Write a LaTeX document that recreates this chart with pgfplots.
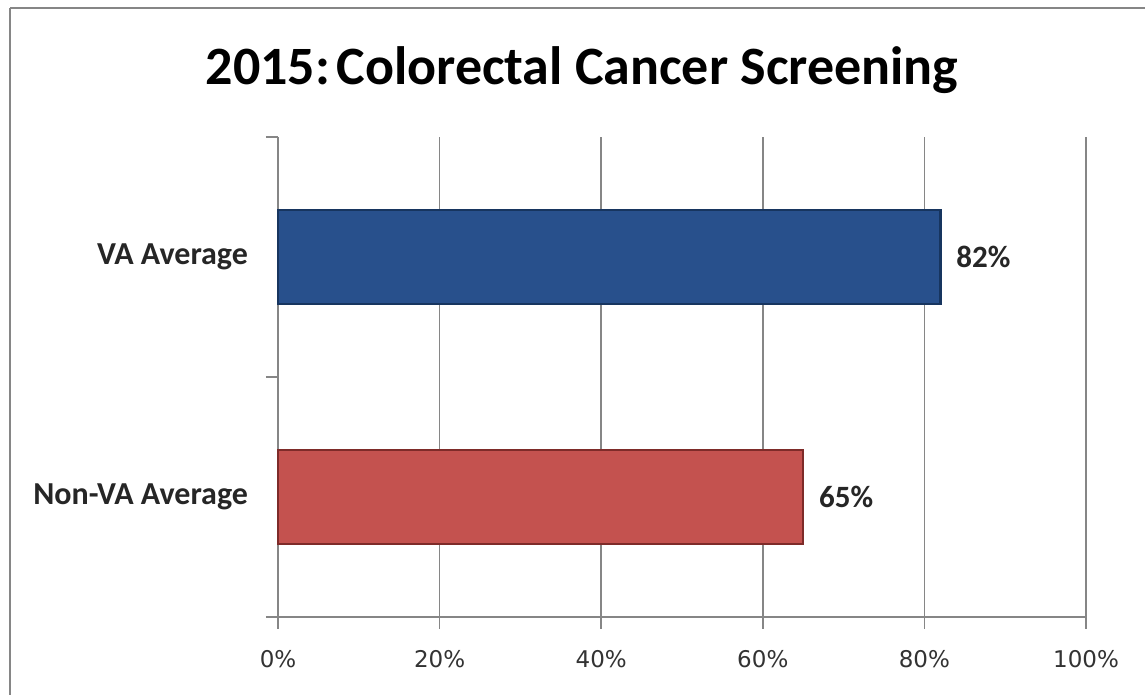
\documentclass[border=0pt]{standalone}
\usepackage{fontspec}
\usepackage{pgfplots}
\pgfplotsset{compat=1.18}
\newfontfamily\carlito{Carlito}
\newfontfamily\dejavu{DejaVu Sans}
\definecolor{vablue}{HTML}{28508C}
\definecolor{vablueedge}{HTML}{17355F}
\definecolor{nvred}{HTML}{C4524F}
\definecolor{nvrededge}{HTML}{7E2B29}
\definecolor{axgray}{HTML}{868686}
\begin{document}
\begin{tikzpicture}[x=1pt,y=1pt]
\useasboundingbox (0,0) rectangle (572.5,347.5);
\clip (0,0) rectangle (572.5,347.5);
\fill[white] (0,0) rectangle (572.5,347.5);
\draw[axgray, line width=1pt] (5,343.5) -- (575,343.5);
\draw[axgray, line width=1pt] (5,343.5) -- (5,-5);
\node[anchor=base, font=\carlito\bfseries\fontsize{27}{32}\selectfont] at (291,305) {2015:\hspace{0.12em}Colorectal Cancer Screening};
\begin{axis}[
  at={(139pt,39pt)}, anchor=south west,
  scale only axis, width=404pt, height=240pt,
  xbar, bar width=47pt,
  xmin=0, xmax=100, ymin=-0.5, ymax=1.5,
  axis lines*=left, axis line style={axgray, line width=0.8pt, -},
  /pgf/number format/assume math mode=true,
  xtick={0,20,40,60,80,100},
  xticklabel={\pgfmathprintnumber{\tick}\%},
  xticklabel style={font=\dejavu\fontsize{11.5}{14}\selectfont, text=black!80, yshift=-7pt},
  ytick={-0.5,0.5,1.5},
  yticklabels={},
  extra y ticks={0,1},
  extra y tick labels={Non-VA Average, VA Average},
  extra y tick style={major tick length=0pt, yticklabel style={font=\carlito\bfseries\fontsize{16}{19}\selectfont, text=black!85, xshift=-11.5pt}},
  tick align=outside,
  major tick length=6pt,
  tick style={axgray, line width=0.8pt},
  xmajorgrids, grid style={axgray, line width=0.8pt},
  nodes near coords={\pgfmathprintnumber{\pgfplotspointmeta}\%},
  nodes near coords style={anchor=west, xshift=4pt, font=\carlito\bfseries\fontsize{15.5}{18}\selectfont, text=black!85},
  clip=false,
]
\addplot[bar shift=0pt, fill=vablue, draw=vablueedge, line width=1.2pt] coordinates {(82,1)};
\addplot[bar shift=0pt, fill=nvred, draw=nvrededge, line width=1.2pt] coordinates {(65,0)};
\end{axis}
\end{tikzpicture}
\end{document}
